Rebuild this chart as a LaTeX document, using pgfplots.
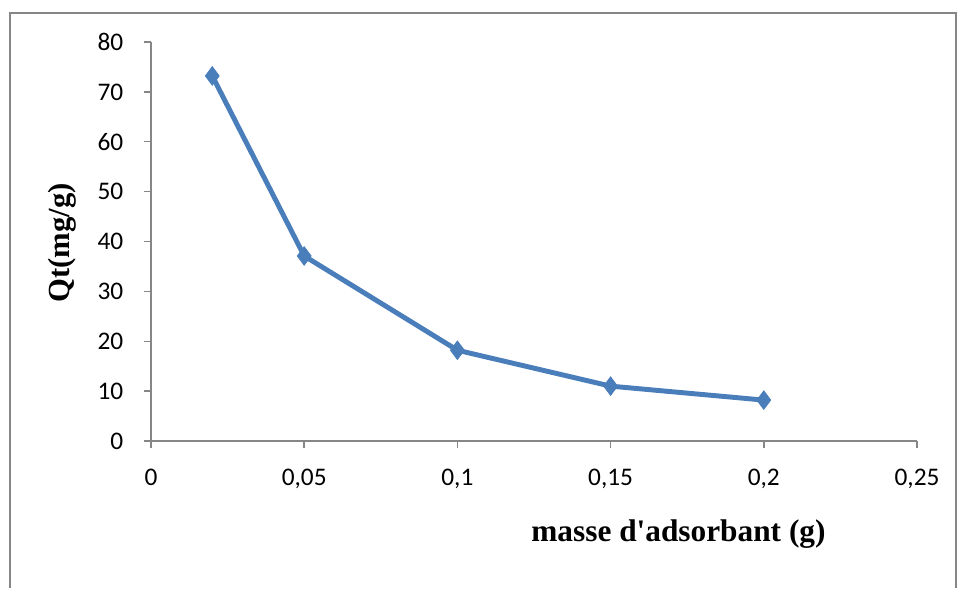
\documentclass[border=0pt]{standalone}
\usepackage{fontspec}
\setmainfont{Liberation Serif}
\newfontfamily\tnr{Liberation Serif}
\newfontfamily\calibri{Carlito}
\usepackage{pgfplots}
\pgfplotsset{compat=1.18}
\definecolor{serblue}{HTML}{4A7EBB}
\definecolor{axgray}{HTML}{868686}
\begin{document}
\begin{tikzpicture}
\begin{axis}[
  at={(0pt,0pt)}, anchor=origin,
  scale only axis,
  width=574.5pt, height=299.25pt,
  xmin=0, xmax=0.25, ymin=0, ymax=80,
  axis lines*=left,
  axis line style={axgray, line width=1.1pt, -},
  xtick={0,0.05,0.1,0.15,0.2,0.25},
  xticklabels={0,{0,05},{0,1},{0,15},{0,2},{0,25}},
  ytick={0,10,...,80},
  tick align=outside,
  major tick length=5.25pt,
  tick style={axgray, line width=1.1pt},
  /pgf/number format/assume math mode=true,
  tick label style={font=\calibri\fontsize{19}{19}\selectfont, black},
  yticklabel style={xshift=-12pt},
  xticklabel style={yshift=-12pt},
  every axis y label/.style={at={(axis description cs:-0.1162,0.4962)}, rotate=90, anchor=center},
  every axis x label/.style={at={(axis description cs:0.6886,-0.2531)}, anchor=base},
  ylabel={\tnr\fontsize{23}{23}\selectfont\bfseries Qt(mg/g)},
  xlabel={\tnr\fontsize{23.5}{23.5}\selectfont\bfseries masse d'adsorbant (g)},
  clip=false,
]
\addplot[serblue, line width=3.7pt, mark=diamond*, mark size=7pt, mark options={solid, fill=serblue, draw=serblue, line width=0.5pt}]
  coordinates {(0.02,73.2) (0.05,37.1) (0.1,18.2) (0.15,11.0) (0.2,8.2)};
\end{axis}
\draw[axgray, line width=1.5pt] (-105.75pt,-110pt) -- (-105.75pt,321pt) -- (603.75pt,321pt) -- (603.75pt,-110pt);
\useasboundingbox[clip] (-113.25pt,-105pt) rectangle (605.25pt,330.75pt);
\end{tikzpicture}
\end{document}
